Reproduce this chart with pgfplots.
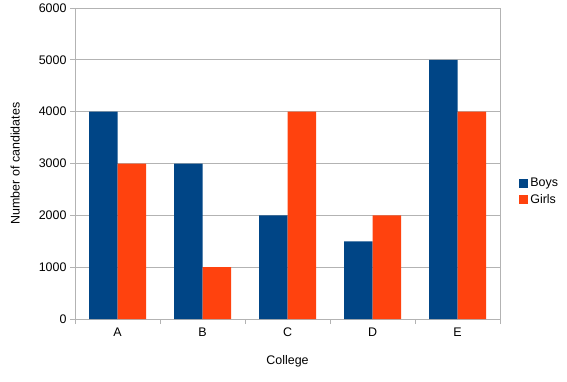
\documentclass[border=0pt]{standalone}
\usepackage{pgfplots}
\pgfplotsset{compat=1.18}
\usepackage{fontspec}
\setmainfont{Liberation Sans}
\definecolor{boys}{HTML}{004586}
\definecolor{girls}{HTML}{FF420E}
\definecolor{axgray}{HTML}{B3B3B3}
\begin{document}
\begin{tikzpicture}[x=1bp,y=1bp]
\useasboundingbox (0,0) rectangle (567,381);
\begin{axis}[
  at={(75bp,62bp)}, anchor=south west,
  scale only axis, width=425bp, height=311bp,
  ybar, bar width=28.5bp,
  ymin=0, ymax=6000, ytick={0,1000,...,6000},
  xmin=-0.5, xmax=4.5,
  xtick={0,1,2,3,4}, xticklabels={A,B,C,D,E},
  minor xtick={-0.5,0.5,1.5,2.5,3.5,4.5},
  major x tick style={draw=none},
  minor x tick style={draw=axgray, line width=0.8pt},
  tick align=outside, xtick pos=bottom, ytick pos=left,
  major tick length=5bp, minor tick length=5bp,
  ymajorgrids, grid style={axgray, line width=0.8pt},
  axis line style={axgray, line width=0.8pt},
  ytick style={axgray, line width=0.8pt},
  font=\fontsize{12.5}{14}\selectfont,
  tick label style={font=\fontsize{12.5}{14}\selectfont},
  /pgf/number format/assume math mode=true,
  /pgf/number format/set thousands separator={},
  xlabel={College}, ylabel={Number of candidates},
  xlabel style={at={(axis description cs:0.5,-0.135)}, anchor=center},
  ylabel style={at={(axis description cs:-0.141,0.5)}, anchor=center},
  legend style={at={(1.038,0.41)}, anchor=west, draw=none, fill=none,
    font=\fontsize{12.5}{14}\selectfont, row sep=2bp,
    /tikz/every even column/.style={column sep=2bp}},
  legend cell align=left,
  legend image code/.code={\fill[#1] (0bp,-4.5bp) rectangle (9bp,4.5bp);},
]
\addplot[fill=boys, draw=none, bar shift=-14.25bp] coordinates {(0,4000) (1,3000) (2,2000) (3,1500) (4,5000)};
\addplot[fill=girls, draw=none, bar shift=14.25bp] coordinates {(0,3000) (1,1000) (2,4000) (3,2000) (4,4000)};
\legend{Boys,Girls}
\end{axis}
\end{tikzpicture}
\end{document}
